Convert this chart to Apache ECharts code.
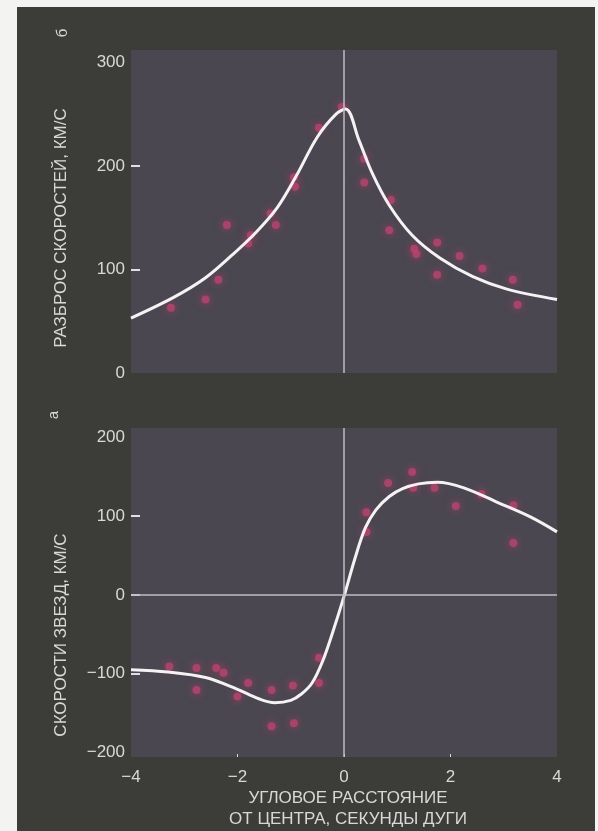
<!DOCTYPE html>
<html>
<head>
<meta charset="utf-8">
<script src="https://cdn.jsdelivr.net/npm/echarts@6/dist/echarts.min.js"></script>
<style>
  html, body { margin: 0; padding: 0; background: #f3f3f1; }
  #main { width: 598px; height: 831px; }
</style>
</head>
<body>
<div id="main"></div>
<script>
// angular distance from the centre, arcsec (x) vs velocity dispersion / velocity, km/s (y)
var dispersionPoints = [
  [-3.25, 63], [-2.6, 71], [-2.36, 90], [-2.2, 143], [-1.8, 125], [-1.75, 133],
  [-1.38, 154], [-1.28, 143], [-0.94, 189], [-0.92, 180], [-0.47, 237], [-0.04, 257],
  [0.38, 207], [0.38, 184], [0.88, 167], [0.85, 138], [1.32, 120], [1.36, 115],
  [1.75, 126], [1.75, 95], [2.17, 113], [2.6, 101], [3.17, 90], [3.26, 66]
];
var dispersionCurve = [
  [-4, 53], [-3.2, 73], [-2.6, 92], [-2.1, 114], [-1.65, 136], [-1.25, 160],
  [-0.9, 190], [-0.5, 228], [-0.15, 250], [0.03, 255], [0.28, 225], [0.53, 193],
  [0.85, 162], [1.28, 133], [1.8, 111], [2.42, 93], [3.06, 81], [4, 71]
];
var velocityPoints = [
  [-3.28, -91], [-2.77, -93], [-2.77, -121], [-2.4, -93], [-2.26, -99], [-2.0, -129],
  [-1.8, -112], [-1.36, -121], [-1.36, -167], [-0.96, -115], [-0.94, -163], [-0.47, -80],
  [-0.47, -112], [0.42, 105], [0.42, 80], [0.83, 142], [1.28, 156], [1.3, 136],
  [1.7, 136], [2.1, 113], [2.58, 128], [3.18, 114], [3.18, 66]
];
var velocityCurve = [
  [-4, -95], [-3.3, -98], [-2.6, -105], [-2, -120], [-1.6, -132], [-1.3, -137],
  [-1.0, -134], [-0.8, -126], [-0.6, -112], [-0.4, -84], [-0.2, -45], [0, -2],
  [0.2, 45], [0.4, 85], [0.6, 108], [0.85, 125], [1.1, 135], [1.4, 141], [1.75, 143],
  [2.25, 136], [2.9, 117], [3.5, 99], [4, 80]
];
var xTicks = [-4, -2, 0, 2, 4];
var dispersionLabels = [0, 100, 200, 300];
var dispersionTicks = [100, 200];
var velocityLabels = [-200, -100, 0, 100, 200];
var velocityTicks = [-100, 0, 100];

var font = "'Liberation Sans', Arial, sans-serif";
var textColor = '#d8d8d6';
var minus = function (v) { return String(v).replace('-', '\u2212'); };

var chart = echarts.init(document.getElementById('main'));

var pointStyle = {
  color: '#b9446f',
  opacity: 0.8,
  shadowBlur: 8,
  shadowColor: 'rgba(200, 60, 110, 0.9)'
};
var curveStyle = { color: '#f4f2f2', width: 3 };
var zeroLine = { color: '#bdbcc2', width: 1.5, type: 'solid' };

var option = {
  animation: false,
  graphic: [
    { type: 'rect', z: -10, shape: { x: 17, y: 7, width: 578, height: 830 }, style: { fill: '#3c3d39' } },
    { type: 'text', x: 61, y: 228, rotation: Math.PI / 2,
      style: { text: 'РАЗБРОС СКОРОСТЕЙ, КМ/С', fill: textColor, font: '17px ' + font, textAlign: 'center', textVerticalAlign: 'middle' } },
    { type: 'text', x: 61, y: 635, rotation: Math.PI / 2,
      style: { text: 'СКОРОСТИ ЗВЕЗД, КМ/С', fill: textColor, font: '17px ' + font, textAlign: 'center', textVerticalAlign: 'middle' } },
    { type: 'text', x: 63, y: 33, rotation: Math.PI / 2,
      style: { text: 'б', fill: textColor, font: '15px ' + font, textAlign: 'center', textVerticalAlign: 'middle' } },
    { type: 'text', x: 54, y: 415, rotation: Math.PI / 2,
      style: { text: 'а', fill: textColor, font: '15px ' + font, textAlign: 'center', textVerticalAlign: 'middle' } },
    { type: 'text', x: 348, y: 809,
      style: { text: 'УГЛОВОЕ РАССТОЯНИЕ\nОТ ЦЕНТРА, СЕКУНДЫ ДУГИ', fill: textColor, font: '17px ' + font,
        lineHeight: 21, textAlign: 'center', textVerticalAlign: 'middle' } }
  ],
  grid: [
    { left: 131, right: 41, top: 50, bottom: 458, show: true, backgroundColor: '#4a4751', borderWidth: 0 },
    { left: 131, right: 41, top: 428, bottom: 74, show: true, backgroundColor: '#4a4751', borderWidth: 0 }
  ],
  xAxis: [
    { gridIndex: 0, type: 'value', min: -4, max: 4, interval: 2, show: false },
    { gridIndex: 1, type: 'value', min: -4, max: 4, interval: 2,
      axisLine: { show: false, onZero: false },
      splitLine: { show: false },
      axisTick: { show: true, inside: true, length: 3, customValues: [-2, 0, 2], lineStyle: { color: '#d8d8d8' } },
      axisLabel: { color: textColor, fontSize: 17, fontFamily: font, margin: 12,
        customValues: xTicks, formatter: minus } }
  ],
  yAxis: [
    { gridIndex: 0, type: 'value', min: 0, max: 312,
      axisLine: { show: false, onZero: false },
      splitLine: { show: false },
      axisTick: { show: true, inside: true, length: 9, customValues: dispersionTicks, lineStyle: { color: '#e0e0e0', width: 2 } },
      axisLabel: { color: textColor, fontSize: 17, fontFamily: font, margin: 6,
        customValues: dispersionLabels, formatter: minus } },
    { gridIndex: 1, type: 'value', min: -206, max: 212,
      axisLine: { show: false, onZero: false },
      splitLine: { show: false },
      axisTick: { show: true, inside: true, length: 9, customValues: velocityTicks, lineStyle: { color: '#e0e0e0', width: 2 } },
      axisLabel: { color: textColor, fontSize: 17, fontFamily: font, margin: 6,
        customValues: velocityLabels, formatter: minus } }
  ],
  series: [
    {
      name: 'dispersion fit', type: 'line', xAxisIndex: 0, yAxisIndex: 0,
      data: dispersionCurve, showSymbol: false, smooth: 0.35,
      lineStyle: curveStyle, z: 3,
      markLine: { silent: true, symbol: 'none', label: { show: false }, lineStyle: zeroLine,
        data: [{ xAxis: 0 }] }
    },
    {
      name: 'dispersion', type: 'scatter', xAxisIndex: 0, yAxisIndex: 0,
      data: dispersionPoints, symbol: 'circle', symbolSize: 8, itemStyle: pointStyle, z: 2
    },
    {
      name: 'velocity fit', type: 'line', xAxisIndex: 1, yAxisIndex: 1,
      data: velocityCurve, showSymbol: false, smooth: 0.35,
      lineStyle: curveStyle, z: 3,
      markLine: { silent: true, symbol: 'none', label: { show: false }, lineStyle: zeroLine,
        data: [{ xAxis: 0 }, { yAxis: 0 }] }
    },
    {
      name: 'velocity', type: 'scatter', xAxisIndex: 1, yAxisIndex: 1,
      data: velocityPoints, symbol: 'circle', symbolSize: 8, itemStyle: pointStyle, z: 2
    }
  ]
};

chart.setOption(option);
</script>
</body>
</html>
